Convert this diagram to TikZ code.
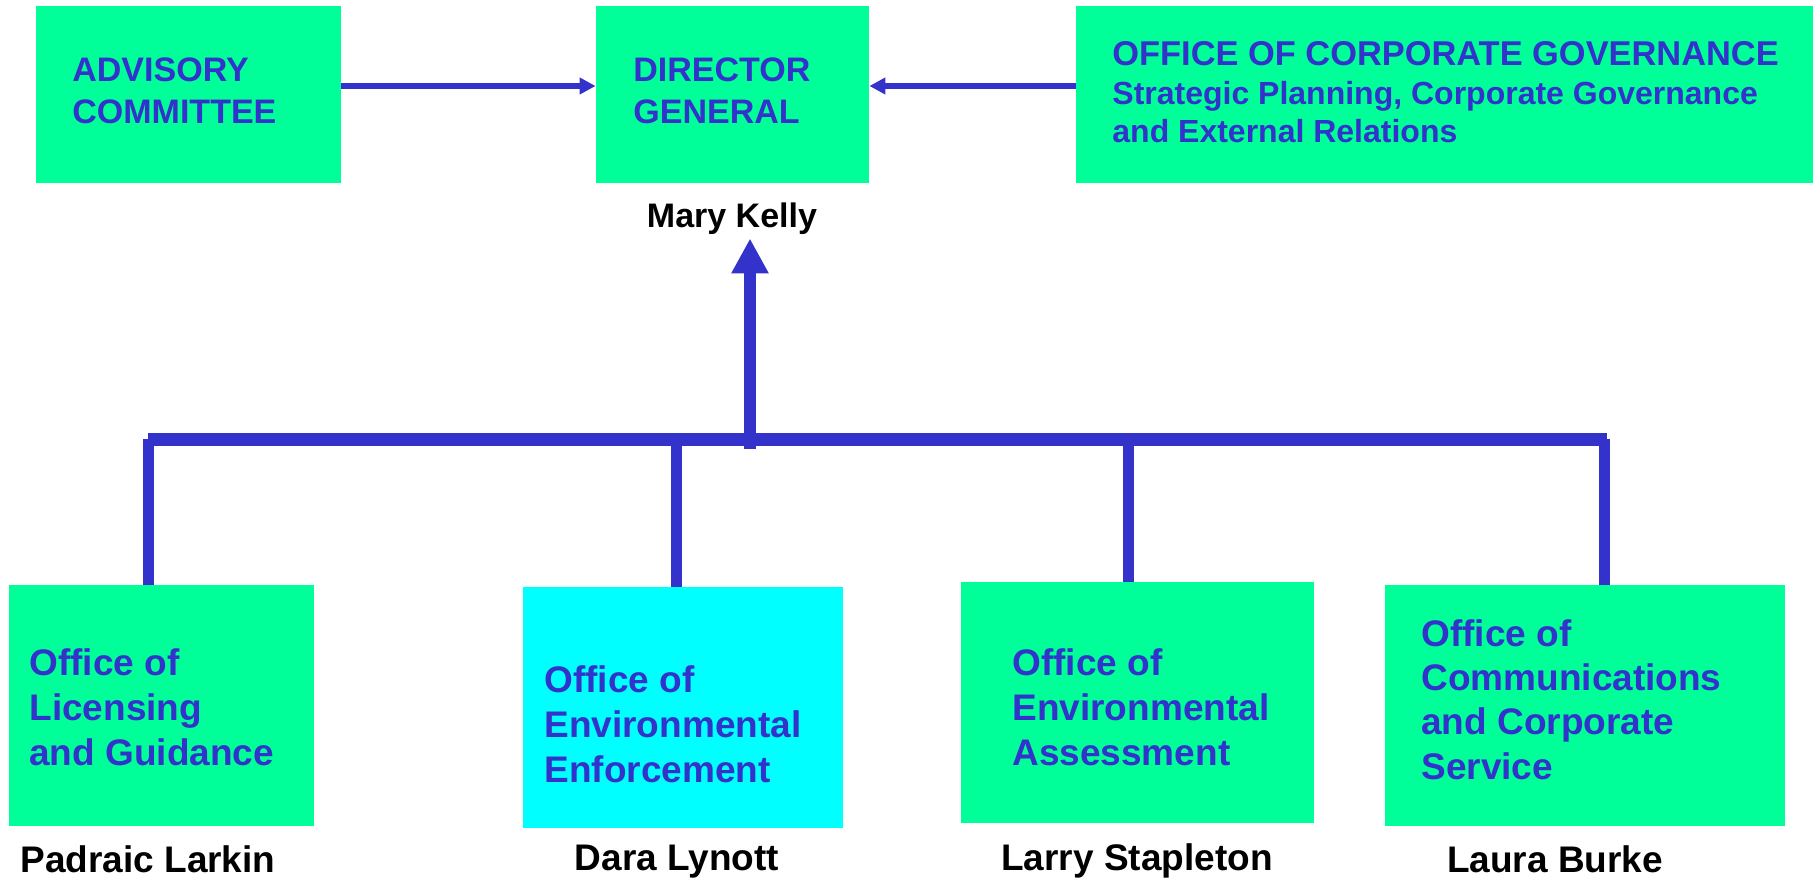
\documentclass[tikz,border=0pt]{standalone}
\usepackage{fontspec}
\setmainfont{Liberation Sans}
\usetikzlibrary{arrows.meta}
\definecolor{boxgreen}{RGB}{0,255,153}
\definecolor{boxcyan}{RGB}{0,255,255}
\definecolor{orgblue}{RGB}{51,51,204}
\begin{document}
\begin{tikzpicture}[x=0.5pt,y=-0.5pt,
  gbox/.style={fill=boxgreen,draw=none,inner sep=0pt,minimum height=88.5pt},
  lbox/.style={fill=boxgreen,draw=none,inner sep=0pt,minimum height=120.5pt},
  topfont/.style={font=\fontsize{17}{21}\selectfont\bfseries},
  lowfont/.style={font=\fontsize{18.5}{22.5}\selectfont\bfseries},
  boxtext/.style={anchor=base west,inner sep=0pt,text=orgblue},
  nametext/.style={anchor=base,inner sep=0pt,text=black,font=\fontsize{18.5}{22.5}\selectfont\bfseries},
  thinarr/.style={draw=orgblue,line width=3pt,-{Triangle[length=8pt,width=8pt]}},
  bigarr/.style={draw=orgblue,line width=6pt,-{Triangle[length=17.5pt,width=17.5pt]}},
  barline/.style={draw=orgblue,line width=6.5pt},
  dropline/.style={draw=orgblue,line width=5.5pt}
]
\useasboundingbox (0,0) rectangle (1816,878);

% top boxes
\node[gbox,minimum width=152.5pt] (adv) at (188.5,94.5) {};
\node[gbox,minimum width=136.5pt] (dg) at (732.5,94.5) {};
\node[gbox,minimum width=368.5pt] (ocg) at (1444.5,94.5) {};

\node[boxtext,topfont] (advt) at (72,81) {\begin{tabular}[t]{@{}l@{}}ADVISORY\\COMMITTEE\end{tabular}};
\node[boxtext,topfont] (dgt) at (633,81) {\begin{tabular}[t]{@{}l@{}}DIRECTOR\\GENERAL\end{tabular}};
\node[boxtext,font=\fontsize{17.2}{19.5}\selectfont\bfseries] (ocgt) at (1112,65) {\begin{tabular}[t]{@{}l@{}}OFFICE OF CORPORATE GOVERNANCE\\
{\fontsize{16}{19.5}\selectfont Strategic Planning, Corporate Governance}\\
{\fontsize{16}{19.5}\selectfont and External Relations}\end{tabular}};

\node[nametext,font=\fontsize{17}{21}\selectfont\bfseries] (mk) at (732,227) {Mary Kelly};

% top arrows
\coordinate (ay) at (0,86);
\draw[thinarr] (adv.east |- ay) -- (dg.west |- ay);
\draw[thinarr] (ocg.west |- ay) -- (dg.east |- ay);

% bottom boxes
\node[lbox,minimum width=152.5pt] (lic) at (161.5,705.5) {};
\node[lbox,minimum width=160pt,fill=boxcyan] (enf) at (683,707.5) {};
\node[lbox,minimum width=176.5pt] (ass) at (1137.5,702.5) {};
\node[lbox,minimum width=200pt] (com) at (1585,705.5) {};

\node[boxtext,lowfont] (lict) at (29,675) {\begin{tabular}[t]{@{}l@{}}Office of\\Licensing\\and Guidance\end{tabular}};
\node[boxtext,lowfont] (enft) at (544,692) {\begin{tabular}[t]{@{}l@{}}Office of\\Environmental\\Enforcement\end{tabular}};
\node[boxtext,lowfont] (asst) at (1012,675) {\begin{tabular}[t]{@{}l@{}}Office of\\Environmental\\Assessment\end{tabular}};
\node[boxtext,font=\fontsize{18.5}{22.2}\selectfont\bfseries] (comt) at (1421,646) {\begin{tabular}[t]{@{}l@{}}Office of\\Communications\\and Corporate\\Service\end{tabular}};

\node[nametext] (n1) at (148,872) {Padraic Larkin};
\node[nametext] (n2) at (677,870) {Dara Lynott};
\node[nametext] (n3) at (1137,870) {Larry Stapleton};
\node[nametext] (n4) at (1555,872) {Laura Burke};

% org bar
\coordinate (barL) at (148,439);
\coordinate (barR) at (1607,439);
\coordinate (j1) at (148,439);
\coordinate (j2) at (676,439);
\coordinate (j3) at (1128,439);
\coordinate (j4) at (1604,439);
\coordinate (hub) at (750,449);
\draw[barline] (barL) -- (barR);
\draw[dropline] (j1) -- (j1 |- lic.north);
\draw[dropline] (j2) -- (j2 |- enf.north);
\draw[dropline] (j3) -- (j3 |- ass.north);
\draw[dropline] (j4) -- (j4 |- com.north);
\draw[bigarr] (hub) -- ([yshift=-2pt]hub |- mk.south);
\end{tikzpicture}
\end{document}
